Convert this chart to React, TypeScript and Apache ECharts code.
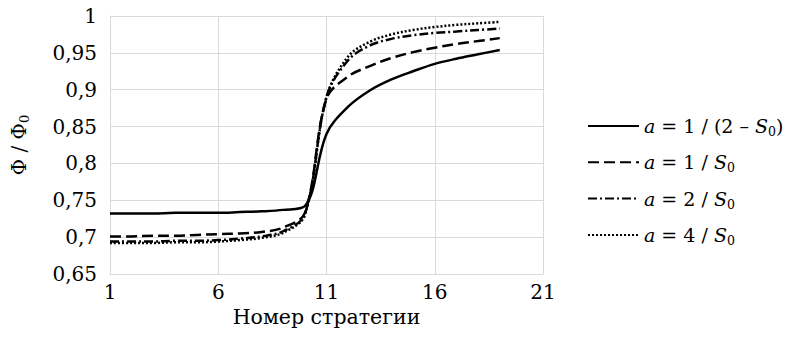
import React, { useEffect, useRef } from "react";
import * as echarts from "echarts";

const strategies = [1, 2, 3, 4, 5, 6, 7, 8, 9, 10, 11, 12, 13, 14, 15, 16, 17, 18, 19];
const seriesA1 = [0.732, 0.732, 0.732, 0.733, 0.733, 0.733, 0.734, 0.735, 0.737, 0.742, 0.84, 0.877, 0.899, 0.914, 0.925, 0.935, 0.942, 0.948, 0.954];
const seriesA2 = [0.701, 0.701, 0.702, 0.702, 0.703, 0.704, 0.705, 0.707, 0.713, 0.733, 0.888, 0.918, 0.932, 0.943, 0.951, 0.957, 0.962, 0.966, 0.970];
const seriesA3 = [0.694, 0.694, 0.694, 0.695, 0.695, 0.696, 0.698, 0.701, 0.708, 0.731, 0.89, 0.94, 0.96, 0.969, 0.974, 0.977, 0.979, 0.981, 0.983];
const seriesA4 = [0.692, 0.692, 0.692, 0.693, 0.693, 0.694, 0.696, 0.699, 0.706, 0.73, 0.89, 0.945, 0.965, 0.975, 0.981, 0.985, 0.988, 0.99, 0.992];
const seriesNames = ["a1", "a2", "a3", "a4"];
const legendTexts: Record<string, string> = {
  a1: "{i|a} = 1 / (2 – {i|S}{s|0})",
  a2: "{i|a} = 1 / {i|S}{s|0}",
  a3: "{i|a} = 2 / {i|S}{s|0}",
  a4: "{i|a} = 4 / {i|S}{s|0}",
};
const xTicks = { min: 1, max: 21, interval: 5 };
const yTicks = { min: 0.65, max: 1, interval: 0.05 };

const FONT = "DejaVu Serif";
const FS = 20;
const LFS = 19;

export default function App() {
  const ref = useRef<HTMLDivElement>(null);
  useEffect(() => {
    if (!ref.current) return;
    const chart = echarts.init(ref.current, undefined, { renderer: "svg" });
    const mk = (vals: number[]) => strategies.map((x, i) => [x, vals[i]]);
    const dashes: any[] = ["solid", [11, 5], [9, 3, 2, 3], [2, 2]];
    const all = [seriesA1, seriesA2, seriesA3, seriesA4];
    const rich = {
      i: { fontStyle: "italic", fontFamily: FONT, fontSize: LFS, color: "#000", lineHeight: 26 },
      s: { fontFamily: FONT, fontSize: 12.5, color: "#000", lineHeight: 26, padding: [11, 0, 0, 0] },
    };
    chart.setOption({
      animation: false,
      textStyle: { fontFamily: FONT, color: "#000" },
      grid: { left: 110, top: 16, width: 433, height: 258, outerBoundsMode: "none", containLabel: false },
      xAxis: {
        type: "value",
        min: xTicks.min,
        max: xTicks.max,
        interval: xTicks.interval,
        name: "Номер стратегии",
        nameLocation: "middle",
        nameGap: 32,
        nameTextStyle: { fontFamily: FONT, fontSize: 20.5, color: "#000" },
        axisLine: { lineStyle: { color: "#d9d9d9", width: 1 } },
        axisTick: { show: false },
        axisLabel: { fontFamily: FONT, fontSize: FS, color: "#000", margin: 8 },
        splitLine: { show: true, lineStyle: { color: "#d9d9d9", width: 1 } },
      },
      yAxis: {
        type: "value",
        min: yTicks.min,
        max: yTicks.max,
        interval: yTicks.interval,
        name: "{n|Φ / Φ}{s|0}",
        nameLocation: "middle",
        nameRotate: 90,
        nameGap: 79,
        nameTextStyle: {
          rich: {
            n: { fontFamily: FONT, fontSize: FS, color: "#000" },
            s: { fontFamily: FONT, fontSize: 13, color: "#000", padding: [12, 0, 0, 0] },
          },
        },
        axisLine: { show: true, lineStyle: { color: "#d9d9d9", width: 1 } },
        axisTick: { show: false },
        axisLabel: {
          fontFamily: FONT,
          fontSize: FS,
          color: "#000",
          margin: 13,
          formatter: (v: number) => String(parseFloat(v.toFixed(2))).replace(".", ","),
        },
        splitLine: { show: true, lineStyle: { color: "#d9d9d9", width: 1 } },
      },
      legend: {
        orient: "vertical",
        left: 582,
        top: 109,
        itemWidth: 51,
        itemHeight: 14,
        itemGap: 12.3,
        itemStyle: { opacity: 0 },
        data: seriesNames.map((n) => ({ name: n })),
        formatter: (n: string) => legendTexts[n],
        textStyle: { fontFamily: FONT, fontSize: LFS, color: "#000", rich },
      },
      series: all.map((vals, k) => ({
        name: seriesNames[k],
        type: "line",
        data: mk(vals),
        smooth: 0.35,
        symbol: "none",
        lineStyle: { color: "#000", width: 2.5, type: dashes[k] },
        itemStyle: { color: "#000" },
      })),
    });
    return () => chart.dispose();
  }, []);
  return <div ref={ref} style={{ position: "absolute", left: 0, top: 0, width: 794, height: 347 }} />;
}
